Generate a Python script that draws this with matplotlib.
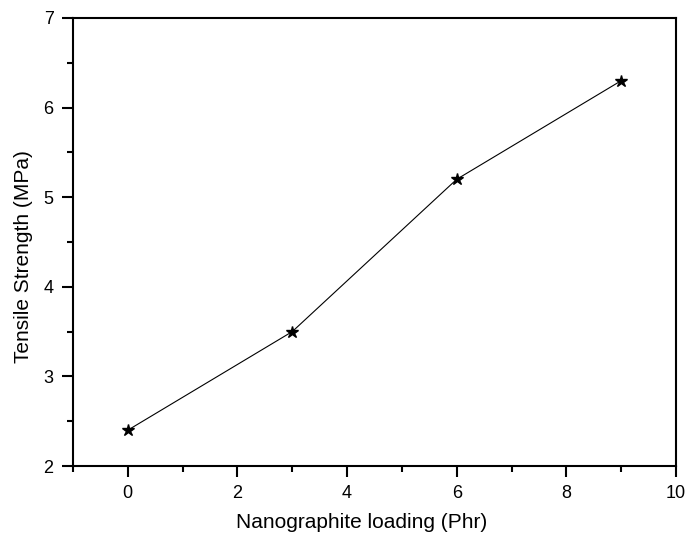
import matplotlib
matplotlib.use("Agg")
import matplotlib.pyplot as plt
from matplotlib.ticker import MultipleLocator

plt.rcParams['font.family'] = ['Liberation Sans', 'DejaVu Sans']

# Data
loading = [0, 3, 6, 9]
strength = [2.4, 3.5, 5.2, 6.3]

fig = plt.figure(figsize=(6.86, 5.34), dpi=100)
ax = fig.add_axes([0.1064, 0.1273, 0.8790, 0.8390])

ax.plot(loading, strength, color='black', linewidth=0.8, marker='*',
        markersize=9, markerfacecolor='black', markeredgecolor='black')

ax.set_xlim(-1, 10)
ax.set_ylim(2, 7)
ax.xaxis.set_major_locator(MultipleLocator(2))
ax.xaxis.set_minor_locator(MultipleLocator(1))
ax.yaxis.set_major_locator(MultipleLocator(1))
ax.yaxis.set_minor_locator(MultipleLocator(0.5))

ax.tick_params(which='major', direction='out', length=8, width=1.5,
               labelsize=13, pad=6, top=False, right=False)
ax.tick_params(which='minor', direction='out', length=4, width=1.5,
               top=False, right=False)
for s in ax.spines.values():
    s.set_linewidth(1.5)

ax.set_xlabel('Nanographite loading (Phr)', fontsize=15)
ax.set_ylabel('Tensile Strength (MPa)', fontsize=15)
ax.xaxis.set_label_coords(0.478, -0.105)
ax.yaxis.set_label_coords(-0.067, 0.4665)

fig.savefig('out.png', dpi=100)
